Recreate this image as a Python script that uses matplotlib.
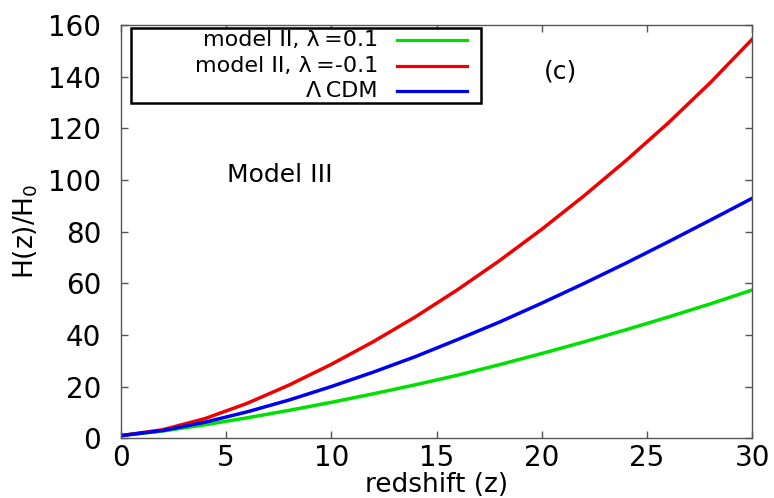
import numpy as np
import matplotlib
matplotlib.use('Agg')
import matplotlib.pyplot as plt
from matplotlib.patches import Rectangle
from matplotlib.lines import Line2D

# values
z = [0, 2, 4, 6, 8, 10, 12, 14, 16, 18, 20, 22, 24, 26, 28, 30]
h_pos = [1.0, 2.8, 5.2, 7.9, 10.8, 13.9, 17.2, 20.7, 24.4, 28.5, 32.8, 37.3, 42.0, 46.9, 52.0, 57.4]
h_neg = [1.0, 3.3, 7.6, 13.5, 20.6, 28.6, 37.4, 47.0, 57.5, 68.8, 80.9, 93.8, 107.5, 122.0, 137.6, 154.5]
h_lcdm = [1.0, 3.0, 6.2, 10.2, 14.8, 20.0, 25.6, 31.6, 38.2, 45.0, 52.3, 59.9, 67.8, 76.0, 84.4, 92.9]

labels = ['model II, λ\u2009=0.1', 'model II, λ\u2009=-0.1', 'Λ\u2009CDM']
colors = ['#00e000', '#f00000', '#0000f0']
xticks = [0, 5, 10, 15, 20, 25, 30]
yticks = [0, 20, 40, 60, 80, 100, 120, 140, 160]

plt.rcParams['font.family'] = 'DejaVu Sans'

fig = plt.figure(figsize=(7.74, 4.98), dpi=100)
ax = fig.add_axes([0.156, 0.12, 0.816, 0.83])

for y, lab, c in zip([h_pos, h_neg, h_lcdm], labels, colors):
    ax.plot(z, y, color=c, lw=2.5, label=lab)

ax.set_xlim(0, 30)
ax.set_ylim(0, 160)
ax.set_xticks(xticks)
ax.set_yticks(yticks)
ax.tick_params(direction='in', top=True, right=True, length=5, width=1,
               color='#555555', labelsize=20)
ax.tick_params(axis='y', pad=14)
ax.tick_params(axis='x', pad=4)
for s in ax.spines.values():
    s.set_color('#555555')
    s.set_linewidth(1)

ax.set_xlabel('redshift (z)', fontsize=19, labelpad=0)
ax.set_ylabel('H(z)/H$_0$', fontsize=19, labelpad=6)

# gnuplot style key: fixed box, labels right aligned, samples on the right
ax.add_patch(Rectangle((0.016, 0.811), 0.554, 0.182, transform=ax.transAxes,
                       facecolor='white', edgecolor='black', lw=1.8, zorder=5))
rows_y = [0.964, 0.901, 0.840]
for ry, lab, c in zip(rows_y, labels, colors):
    ax.text(0.407, ry, lab, transform=ax.transAxes, ha='right', va='center',
            fontsize=16, zorder=6)
    ax.add_line(Line2D([0.437, 0.548], [ry, ry], transform=ax.transAxes,
                       color=c, lw=2.3, zorder=6))

ax.text(20.9, 141.8, '(c)', fontsize=18, ha='center', va='center')
ax.text(7.55, 101.8, 'Model III', fontsize=18, ha='center', va='center')

fig.savefig('out.png', dpi=100)
